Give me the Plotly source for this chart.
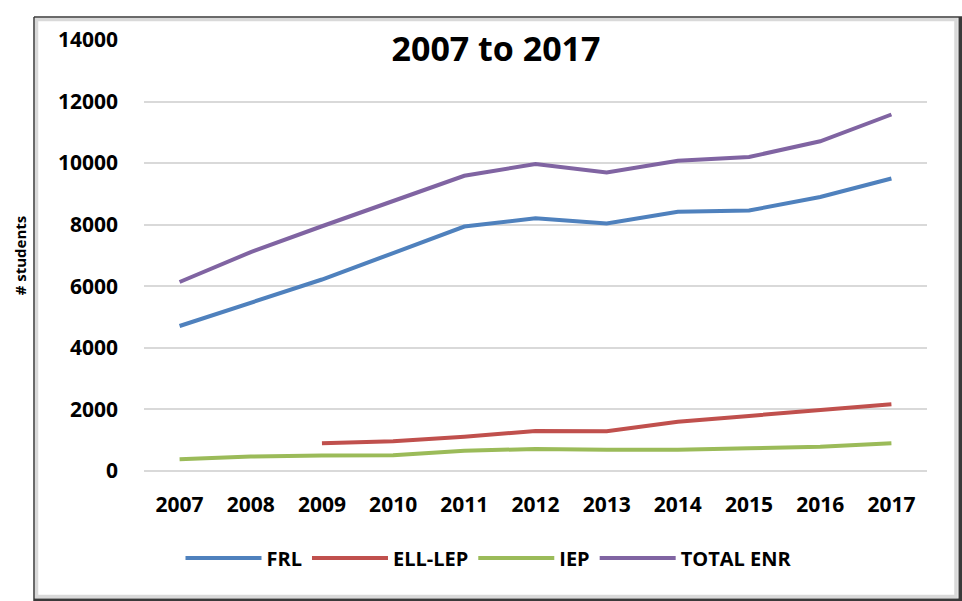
import plotly.graph_objects as go

years = ["2007", "2008", "2009", "2010", "2011", "2012", "2013", "2014", "2015", "2016", "2017"]
frl = [4710, 5450, 6220, 7080, 7940, 8210, 8040, 8420, 8460, 8900, 9500]
ell_lep = [None, None, 900, 965, 1110, 1300, 1290, 1600, 1790, 1980, 2170]
iep = [380, 470, 500, 510, 660, 715, 690, 690, 740, 790, 900]
total_enr = [6140, 7110, 7950, 8760, 9590, 9970, 9700, 10080, 10200, 10710, 11580]
y_ticks = [0, 2000, 4000, 6000, 8000, 10000, 12000, 14000]

W, H = 962, 601
OFF = 0  # body margin removed via post_script
# plot area in page pixels
PX0, PX1, PY0, PY1 = 144, 927, 40, 471
L = PX0 - OFF
T = PY0 - OFF
R = W - (PX1 - OFF)
B = H - (PY1 - OFF)
PW, PH = PX1 - PX0, PY1 - PY0


def px(x):
    return (x - PX0) / PW


def py(y):
    return (PY1 - y) / PH


FONT = "Open Sans"
fig = go.Figure()
series = [
    ("FRL", frl, "#4F81BD"),
    ("ELL-LEP", ell_lep, "#C0504D"),
    ("IEP", iep, "#9BBB59"),
    ("TOTAL ENR", total_enr, "#8064A2"),
]
for name, vals, col in series:
    fig.add_trace(go.Scatter(x=years, y=vals, name=name, mode="lines",
                             line=dict(color=col, width=4)))

shapes = [
    dict(type="rect", xref="paper", yref="paper", x0=px(36.5), x1=px(956), y0=py(596.5), y1=py(19.5),
         line=dict(color="#d9d9d9", width=3.5), layer="below"),
    dict(type="line", xref="paper", yref="paper", x0=px(34), x1=px(34), y0=py(605), y1=py(17),
         line=dict(color="#3a3a3a", width=1.5)),
    dict(type="line", xref="paper", yref="paper", x0=px(34), x1=px(965), y0=py(17), y1=py(17),
         line=dict(color="#3a3a3a", width=1.5)),
    dict(type="line", xref="paper", yref="paper", x0=px(960.5), x1=px(960.5), y0=py(605), y1=py(17),
         line=dict(color="#3a3a3a", width=4)),
    dict(type="line", xref="paper", yref="paper", x0=px(34), x1=px(965), y0=py(600), y1=py(600),
         line=dict(color="#3a3a3a", width=3)),
]

fig.update_layout(
    width=W, height=H,
    margin=dict(l=L, r=R, t=T, b=B, autoexpand=False),
    paper_bgcolor="white", plot_bgcolor="white",
    font=dict(family=FONT, color="black"),
    title=dict(text="2007 to 2017", x=(496 - OFF) / W, xref="container", xanchor="center",
               y=1 - (49 - OFF) / H, yref="container", yanchor="middle",
               font=dict(family=FONT, size=34, weight="bold", color="black")),
    showlegend=True,
    legend=dict(orientation="h", x=(489 - OFF) / W, xref="container",
                xanchor="center", y=1 - (558 - OFF) / H, yref="container", yanchor="middle",
                font=dict(family=FONT, size=20, weight="bold", color="black"),
                itemwidth=76),
    shapes=shapes,
)
fig.update_xaxes(type="category", range=[-0.5, 10.5], showgrid=False, zeroline=False,
                 showline=False, ticks="", ticklabelstandoff=19,
                 tickfont=dict(family=FONT, size=21, weight="bold", color="black"))
fig.update_yaxes(range=[0, 14000], tickvals=y_ticks, tickformat="d",
                 showgrid=True, gridcolor="#d9d9d9", gridwidth=1.5,
                 zeroline=True, zerolinecolor="#d9d9d9", zerolinewidth=1.5,
                 showline=False, ticks="", ticklabelstandoff=25,
                 tickfont=dict(family=FONT, size=21, weight="bold", color="black"),
                 title=dict(text="# students", standoff=27,
                            font=dict(family=FONT, size=15, weight="bold", color="black")))

fig.write_html("out.html", config={"displayModeBar": False},
               post_script="document.body.style.margin='0px';")
